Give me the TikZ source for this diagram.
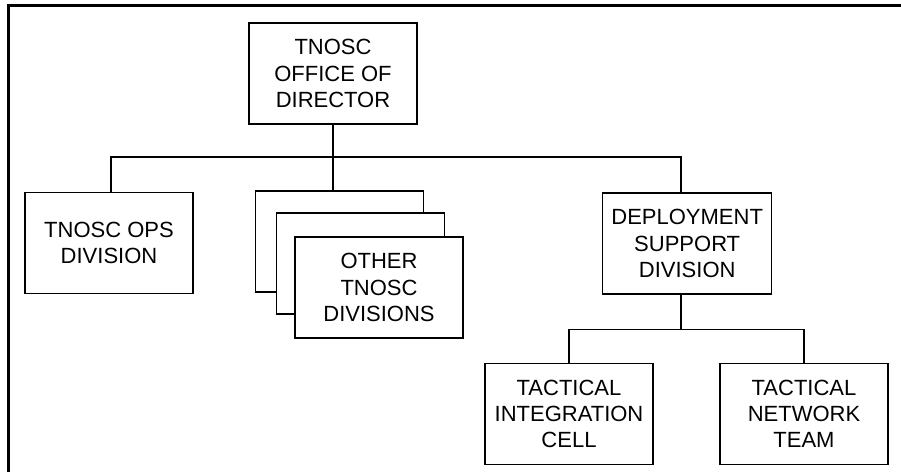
\documentclass[tikz,border=0pt]{standalone}
\usepackage{fontspec}
\setmainfont{Liberation Sans}
\begin{document}
\begin{tikzpicture}[x=1pt,y=-1pt,
  orgbox/.style={draw=black,line width=1.5pt,fill=white,rectangle,minimum width=168pt,minimum height=101pt,inner sep=0pt,align=center,font=\fontsize{22}{26.3}\selectfont},
  conn/.style={draw=black,line width=1.5pt},
  frameline/.style={draw=black,line width=3pt}]
\useasboundingbox (0,0) rectangle (901,471);
\draw[frameline] (905,5.5) -- (8.5,5.5) -- (8.5,475);
\node[orgbox] (dir) at (333,73.5) {TNOSC\\OFFICE OF\\DIRECTOR};
\node[orgbox] (ops) at (109,243) {TNOSC OPS\\DIVISION};
\node[orgbox] (back) at (339.7,241.5) {};
\node[orgbox] (mid) at (360.3,263.3) {};
\node[orgbox] (front) at (379,287.7) {OTHER\\TNOSC\\DIVISIONS};
\node[orgbox,minimum width=169pt] (dsd) at (687.2,243.7) {DEPLOYMENT\\SUPPORT\\DIVISION};
\node[orgbox] (tic) at (569,414) {TACTICAL\\INTEGRATION\\CELL};
\node[orgbox] (tnt) at (804,414) {TACTICAL\\NETWORK\\TEAM};
\coordinate (b1) at (111,157);
\coordinate (b2) at (681,157);
\coordinate (c) at (681,329.3);
\draw[conn] (b1 |- ops.north) -- (b1) -- (b2) -- (b2 |- dsd.north);
\draw[conn] (dir.south) -- (dir.south |- back.north);
\draw[conn] (c |- dsd.south) -- (c);
\draw[conn] (tic.north) |- (c) -| (tnt.north);
\end{tikzpicture}
\end{document}
